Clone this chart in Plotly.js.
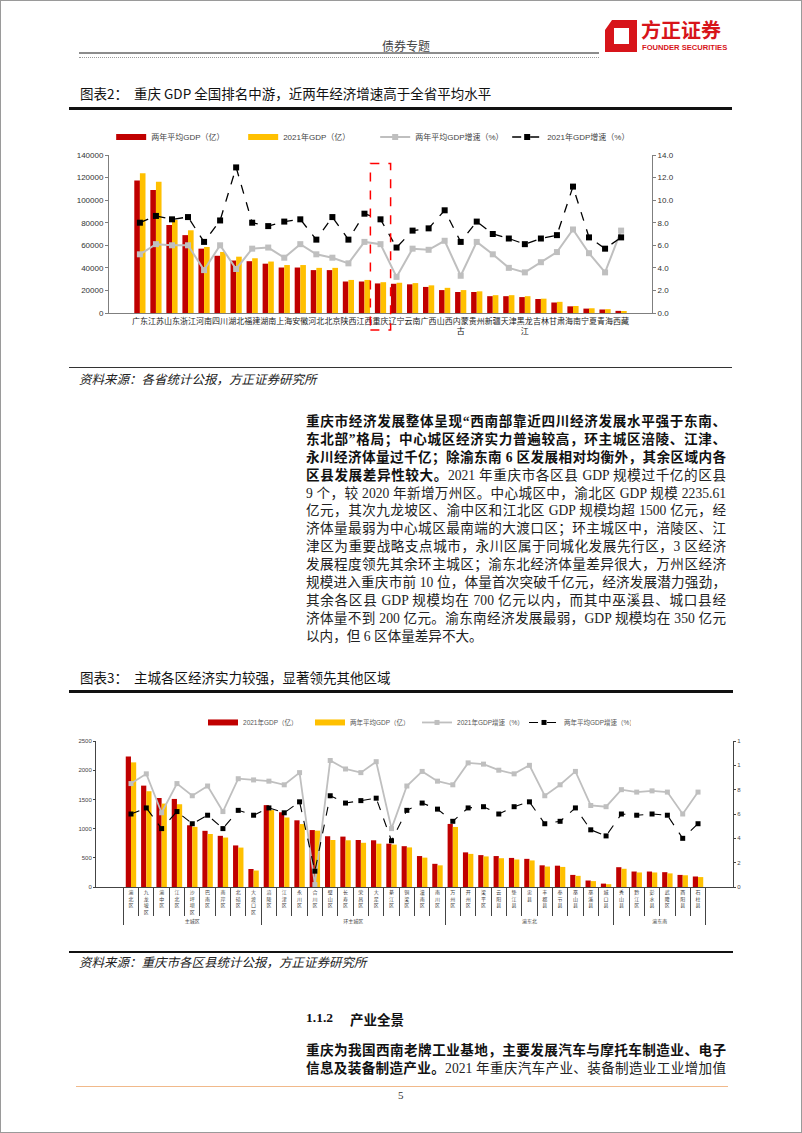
<!DOCTYPE html>
<html><head><meta charset="utf-8">
<script src="https://cdn.plot.ly/plotly-3.0.1.min.js"></script>
<style>
html,body{margin:0;padding:0;background:#fff;}
#page{position:relative;width:800px;height:1131px;border:1px solid #9a9a9a;overflow:hidden;font-family:"Liberation Serif","Noto Sans CJK SC",serif;color:#222;}
.abs{position:absolute;white-space:nowrap;}
.ttl{font-family:"Noto Sans CJK SC",sans-serif;font-size:13.5px;color:#111;line-height:20px;}
.src{font-family:"Noto Sans CJK SC",serif;font-style:italic;font-size:12.5px;color:#222;line-height:18px;}
.para div{height:17.9px;line-height:17.9px;text-align:justify;text-align-last:justify;font-size:13.6px;white-space:nowrap;}
.para div.last{text-align-last:left;}
b{font-weight:bold;color:#111;}
</style></head>
<body>
<div id="page">
  <!-- header -->
  <div class="abs" style="left:381px;top:38px;font-size:12px;line-height:14px;color:#444;font-family:'Noto Sans CJK SC';">债券专题</div>
  <div class="abs" style="left:78px;top:51px;width:520px;height:2px;background:#8c8c8c;"></div>
  <div class="abs" style="left:78px;top:56px;width:520px;height:0;border-top:1px dotted #9a9a9a;"></div>
  <svg class="abs" style="left:604px;top:19px;" width="32" height="32" viewBox="0 0 32 32">
    <path d="M7 0 H32 V32 H0 V10 Z M9 8 V24 H24 V8 Z" fill="#d7141a" fill-rule="evenodd"/>
  </svg>
  <div class="abs" style="left:640px;top:18px;font-size:20px;line-height:21px;font-weight:bold;color:#d7141a;font-family:'Noto Sans CJK SC';">方正证券</div>
  <div class="abs" style="left:641px;top:42px;font-size:7.6px;line-height:9px;font-weight:bold;color:#d7141a;font-family:'Liberation Sans';">FOUNDER SECURITIES</div>

  <!-- chart 1 title -->
  <div class="abs ttl" style="left:79px;top:82px;">图表2：&nbsp;&nbsp;重庆 GDP 全国排名中游，近两年经济增速高于全省平均水平</div>
  <div class="abs" style="left:68px;top:106px;width:663px;height:3px;background:#111;"></div>
  <div id="c1" class="abs" style="left:0;top:110px;width:802px;height:250px;"></div>
  <div class="abs" style="left:68px;top:366px;width:663px;height:1px;background:#333;"></div>
  <div class="abs src" style="left:78px;top:369px;">资料来源：各省统计公报，方正证券研究所</div>

  <!-- paragraph -->
  <div class="abs para" style="left:305px;top:412px;width:420px;">
    <div><b>重庆市经济发展整体呈现“西南部靠近四川经济发展水平强于东南、</b></div>
    <div><b>东北部”格局；中心城区经济实力普遍较高，环主城区涪陵、江津、</b></div>
    <div><b>永川经济体量过千亿；除渝东南 6 区发展相对均衡外，其余区域内各</b></div>
    <div><b>区县发展差异性较大。</b>2021 年重庆市各区县 GDP 规模过千亿的区县</div>
    <div>9 个，较 2020 年新增万州区。中心城区中，渝北区 GDP 规模 2235.61</div>
    <div>亿元，其次九龙坡区、渝中区和江北区 GDP 规模均超 1500 亿元，经</div>
    <div>济体量最弱为中心城区最南端的大渡口区；环主城区中，涪陵区、江</div>
    <div>津区为重要战略支点城市，永川区属于同城化发展先行区，3 区经济</div>
    <div>发展程度领先其余环主城区；渝东北经济体量差异很大，万州区经济</div>
    <div>规模进入重庆市前 10 位，体量首次突破千亿元，经济发展潜力强劲，</div>
    <div>其余各区县 GDP 规模均在 700 亿元以内，而其中巫溪县、城口县经</div>
    <div>济体量不到 200 亿元。渝东南经济发展最弱，GDP 规模均在 350 亿元</div>
    <div class="last">以内，但 6 区体量差异不大。</div>
  </div>

  <!-- chart 2 title -->
  <div class="abs ttl" style="left:79px;top:666px;">图表3：&nbsp;&nbsp;主城各区经济实力较强，显著领先其他区域</div>
  <div class="abs" style="left:68px;top:689px;width:664px;height:3px;background:#111;"></div>
  <div id="c2" class="abs" style="left:0;top:695px;width:802px;height:262px;"></div>
  <div class="abs" style="left:68px;top:950px;width:664px;height:2px;background:#111;"></div>
  <div class="abs src" style="left:78px;top:952px;">资料来源：重庆市各区县统计公报，方正证券研究所</div>

  <!-- bottom section -->
  <div class="abs" style="left:305px;top:1009px;font-size:13.5px;font-weight:bold;color:#111;">1.1.2</div>
  <div class="abs" style="left:349px;top:1009px;font-size:13.5px;font-weight:bold;color:#111;font-family:'Noto Sans CJK SC';line-height:18px;">产业全景</div>
  <div class="abs para" style="left:305px;top:1041px;width:420px;">
    <div><b>重庆为我国西南老牌工业基地，主要发展汽车与摩托车制造业、电子</b></div>
    <div><b>信息及装备制造产业。</b>2021 年重庆汽车产业、装备制造业工业增加值</div>
  </div>
  <div class="abs" style="left:75px;top:1085px;width:652px;height:1px;background:#f1b98a;"></div>
  <div class="abs" style="left:397px;top:1088px;font-size:11px;line-height:13px;color:#333;">5</div>
</div>

<script>
// ---------- Chart 1 data ----------
const provinces = ['广东','江苏','山东','浙江','河南','四川','湖北','福建','湖南','上海','安徽','河北','北京','陕西','江西','重庆','辽宁','云南','广西','山西','内蒙古','贵州','新疆','天津','黑龙江','吉林','甘肃','海南','宁夏','青海','西藏'];
const provinceLabels = ['广东','江苏','山东','浙江','河南','四川','湖北','福建','湖南','上海','安徽','河北','北京','陕西','江西','重庆','辽宁','云南','广西','山西','内蒙<br>古','贵州','新疆','天津','黑龙<br>江','吉林','甘肃','海南','宁夏','青海','西藏'];
const gdpAvg2y = [117500,109000,78000,69000,57000,50700,46500,45900,43700,40300,40300,38000,38000,27900,27900,26200,25900,25400,23100,20300,18600,18600,14900,14900,14100,12400,9300,5900,3900,3100,1900];
const gdp2021 = [123900,116300,82500,73300,58500,54100,49900,48500,45600,42500,42500,40000,40000,29300,29300,27300,26800,26500,24500,22300,20300,19200,15800,15800,14900,12700,9900,6200,4200,3400,1800];
const growthAvg2y = [5.2,6.1,6.0,6.0,3.8,6.0,3.9,5.7,5.8,4.9,6.1,5.2,4.9,4.4,6.3,6.1,3.2,5.7,5.6,6.4,3.3,6.3,5.2,4.0,3.6,4.5,5.4,7.4,5.3,3.6,7.3];
const growth2021 = [8.0,8.6,8.3,8.5,6.3,8.2,12.9,8.0,7.7,8.1,8.3,6.5,8.5,6.5,8.8,8.3,5.8,7.3,7.5,9.1,6.3,8.1,7.0,6.6,6.1,6.6,6.9,11.2,6.7,5.7,6.7];
const highlightProvince = '重庆';

// ---------- Chart 2 data ----------
const regionGroups = ['主城区','环主城区','渝东北','渝东南'];
const regionSizes = [9,12,11,6];
const districts = ['渝北区','九龙坡区','渝中区','江北区','沙坪坝区','巴南区','南岸区','北碚区','大渡口区',
  '涪陵区','江津区','永川区','合川区','璧山区','长寿区','荣昌区','大足区','綦江区','铜梁区','潼南区','南川区',
  '万州区','开州区','梁平区','云阳县','垫江县','忠县','丰都县','奉节县','巫山县','巫溪县','城口县',
  '秀山县','黔江区','彭水县','武隆区','酉阳县','石柱县'];
const dGdp2021 = [2236,1736,1524,1508,1057,962,876,712,308,
  1402,1280,1142,975,869,863,805,800,742,699,530,397,
  1080,593,546,530,498,482,371,365,207,111,58,
  339,265,265,254,207,180];
const dGdpAvg2y = [2134,1640,1428,1417,1030,908,847,675,282,
  1317,1190,1078,965,805,800,757,742,726,678,503,371,
  1028,567,524,493,471,455,350,344,191,101,48,
  312,249,249,233,201,170];
const dGrowth2021 = [8.5,9.3,6.1,8.5,7.5,8.3,6.2,8.9,8.8,
  8.7,8.4,9.4,0.2,10.4,9.7,9.4,10.3,4.8,8.3,9.5,8.7,
  8.4,10.2,10.1,9.6,9.3,10.0,7.5,8.4,9.5,6.7,6.6,
  8.0,7.8,7.9,7.8,6.0,7.8];
const dGrowthAvg2y = [6.0,6.5,4.8,6.2,5.2,5.9,4.8,6.3,5.9,
  6.5,6.1,7.0,1.3,7.5,6.9,7.1,7.3,3.8,6.3,6.9,6.4,
  5.4,6.5,6.6,6.0,6.6,7.0,5.2,5.4,6.5,4.7,4.2,
  6.0,5.9,6.0,5.9,4.0,5.2];
const rightTickVals = [0,2,4,6,8,10,12];
const rightTickText = ['0','2','4','6','8','1','1'];

const RED = '#C00000', YEL = '#FFC000', GRAY = '#BFBFBF', BLK = '#000000';
const FONT = 'Liberation Sans, Noto Sans CJK SC, sans-serif';

// legend-only swatch (flat bar symbol like the original's legend)
function swatch(name, color, group){
  return {type:'scatter', mode:'lines', name:name, x:[null], y:[null], legendgroup:group,
          line:{color:color, width:6}, hoverinfo:'skip'};
}

// ---------- Chart 1 ----------
const hiIdx = provinces.indexOf(highlightProvince);
Plotly.newPlot('c1', [
  {type:'bar', name:'两年平均GDP（亿）', x:provinces, y:gdpAvg2y, marker:{color:RED}, showlegend:false, legendgroup:'a'},
  {type:'bar', name:'2021年GDP（亿）', x:provinces, y:gdp2021, marker:{color:YEL}, showlegend:false, legendgroup:'b'},
  swatch('两年平均GDP（亿）', RED, 'a'),
  swatch('2021年GDP（亿）', YEL, 'b'),
  {type:'scatter', mode:'lines+markers', name:'两年平均GDP增速（%）', x:provinces, y:growthAvg2y, yaxis:'y2',
   line:{color:GRAY, width:2}, marker:{symbol:'square', size:6, color:GRAY}},
  {type:'scatter', mode:'lines+markers', name:'2021年GDP增速（%）', x:provinces, y:growth2021, yaxis:'y2',
   line:{color:BLK, width:1.3, dash:'dash'}, marker:{symbol:'square', size:6, color:BLK}}
], {
  width:802, height:250,
  margin:{l:108, r:151, t:36, b:48},
  paper_bgcolor:'rgba(0,0,0,0)', plot_bgcolor:'rgba(0,0,0,0)',
  barmode:'group', bargap:0.3, bargroupgap:0,
  font:{family:FONT, size:8, color:'#333'},
  showlegend:true,
  legend:{orientation:'h', x:0.004, xanchor:'left', y:1.114, yanchor:'middle', font:{size:8, color:'#444'},
    entrywidth:87, itemwidth:30, traceorder:'normal', tracegroupgap:0},
  xaxis:{type:'category', tickvals:provinces, ticktext:provinceLabels, tickangle:0, tickfont:{size:8, family:'Noto Sans CJK SC', color:'#222'},
    showline:true, linecolor:'#7f7f7f', linewidth:1, ticks:'', showgrid:false, automargin:false, fixedrange:true},
  yaxis:{range:[0,140000], dtick:20000, tickformat:'d', showgrid:false, zeroline:false, showline:true, linecolor:'#7f7f7f',
    ticks:'outside', ticklen:3, tickcolor:'#7f7f7f', tickfont:{size:8}, automargin:false},
  yaxis2:{overlaying:'y', side:'right', range:[0,14], dtick:2, tickformat:'.1f', showgrid:false, zeroline:false, showline:true,
    linecolor:'#7f7f7f', ticks:'outside', ticklen:3, tickcolor:'#7f7f7f', tickfont:{size:8}, automargin:false},
  shapes:[{type:'rect', xref:'x', yref:'paper', x0:hiIdx-0.63, x1:hiIdx+0.63, y0:-0.108, y1:0.946,
    line:{color:'#FF0000', width:1.5, dash:'dash'}, fillcolor:'rgba(0,0,0,0)'}]
}, {displayModeBar:false, staticPlot:true});

// ---------- Chart 2 ----------
const groupCol = [];
regionGroups.forEach((g,i)=>{ for(let k=0;k<regionSizes[i];k++) groupCol.push(g); });
const vertLabels = districts.map(d => d.split('').join('<br>'));
const xMulti = [groupCol, vertLabels];
Plotly.newPlot('c2', [
  {type:'bar', name:'2021年GDP（亿）', x:xMulti, y:dGdp2021, marker:{color:RED}, showlegend:false, legendgroup:'a'},
  {type:'bar', name:'两年平均GDP（亿）', x:xMulti, y:dGdpAvg2y, marker:{color:YEL}, showlegend:false, legendgroup:'b'},
  swatch('2021年GDP（亿）', RED, 'a'),
  swatch('两年平均GDP（亿）', YEL, 'b'),
  {type:'scatter', mode:'lines+markers', name:'2021年GDP增速（%）', x:xMulti, y:dGrowth2021, yaxis:'y2',
   line:{color:GRAY, width:1.8}, marker:{symbol:'square', size:5, color:GRAY}},
  {type:'scatter', mode:'lines+markers', name:'两年平均GDP增速（%）', x:xMulti, y:dGrowthAvg2y, yaxis:'y2',
   line:{color:BLK, width:1.1, dash:'dash'}, marker:{symbol:'square', size:5, color:BLK}}
], {
  width:802, height:262,
  margin:{l:95, r:70, t:33, b:71},
  paper_bgcolor:'rgba(0,0,0,0)', plot_bgcolor:'rgba(0,0,0,0)',
  barmode:'group', bargap:0.32, bargroupgap:0,
  font:{family:FONT, size:6, color:'#444'},
  showlegend:true,
  legend:{orientation:'h', x:0.168, xanchor:'left', y:1.127, yanchor:'middle', font:{size:6.5, color:'#555'},
    entrywidth:62, itemwidth:30, traceorder:'normal', tracegroupgap:0},
  xaxis:{type:'multicategory', tickson:'boundaries', ticks:'outside', ticklen:28, tickcolor:'#444', tickwidth:1,
    showline:true, linecolor:'#444', linewidth:1, showdividers:true, dividercolor:'#444', dividerwidth:1,
    tickfont:{size:5, family:'Noto Sans CJK SC', color:'#444'}, showgrid:false, automargin:false},
  yaxis:{range:[0,2500], dtick:500, showgrid:false, zeroline:false, showline:true, linecolor:'#444',
    ticks:'outside', ticklen:2, tickcolor:'#444', tickfont:{size:6}, automargin:false},
  yaxis2:{overlaying:'y', side:'right', range:[0,12], tickvals:rightTickVals, ticktext:rightTickText, showgrid:false, zeroline:false,
    showline:true, linecolor:'#444', ticks:'outside', ticklen:2, tickcolor:'#444', tickfont:{size:6}, automargin:false}
}, {displayModeBar:false, staticPlot:true});
</script>
</body></html>
